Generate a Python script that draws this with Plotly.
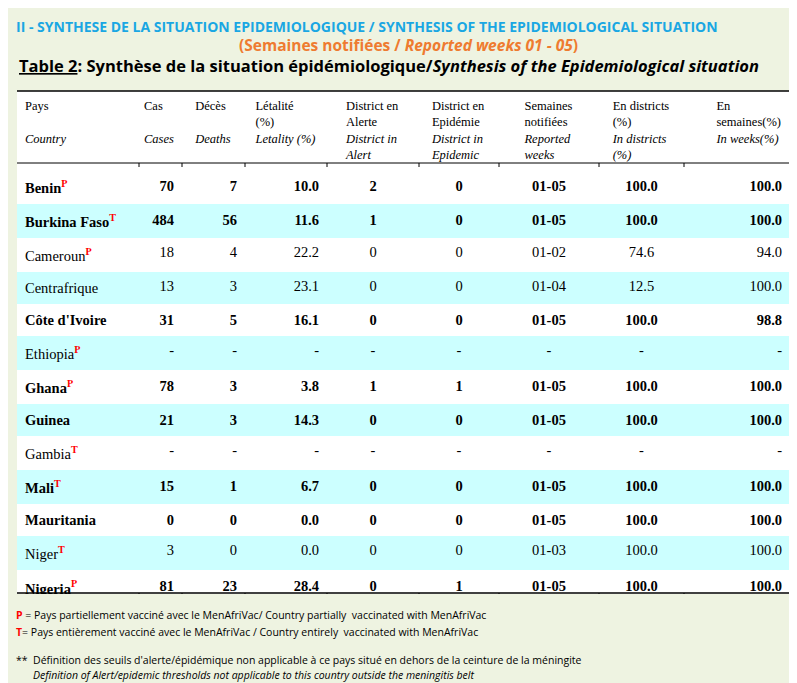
import plotly.graph_objects as go

W, H = 797, 683

countries = ["Benin", "Burkina Faso", "Cameroun", "Centrafrique", "Côte d'Ivoire", "Ethiopia",
             "Ghana", "Guinea", "Gambia", "Mali", "Mauritania", "Niger", "Nigeria", "RD Congo",
             "Senegal", "South Sudan", "Sudan", "Tchad", "Togo", "Total"]
marks = ["P", "T", "P", "", "", "P", "P", "", "T", "T", "", "T", "P", "**", "P", "", "T", "T", "", ""]
bold = [1, 1, 0, 0, 1, 0, 1, 1, 0, 1, 1, 0, 1, 0, 1, 1, 0, 1, 1, 1]
cases = ["70", "484", "18", "13", "31", "-", "78", "21", "-", "15", "0", "3", "81", "-", "24", "1", "22", "44", "39", "944"]
deaths = ["7", "56", "4", "3", "5", "-", "3", "3", "-", "1", "0", "0", "23", "-", "0", "0", "0", "2", "1", "108"]
letality = ["10.0", "11.6", "22.2", "23.1", "16.1", "-", "3.8", "14.3", "-", "6.7", "0.0", "0.0", "28.4", "-",
            "0.0", "0.0", "0.0", "4.5", "2.6", "11.4"]
alert = ["2", "1", "0", "0", "0", "-", "1", "0", "-", "0", "0", "0", "0", "-", "0", "0", "0", "1", "0", "5"]
epidemic = ["0", "0", "0", "0", "0", "-", "1", "0", "-", "0", "0", "0", "1", "-", "0", "0", "0", "0", "0", "2"]
weeks = ["01-05", "01-05", "01-02", "01-04", "01-05", "-", "01-05", "01-05", "-", "01-05", "01-05", "01-03",
         "01-05", "-", "01-05", "01-05", "01-02", "01-05", "01-05", "01-05"]
pct_districts = ["100.0", "100.0", "74.6", "12.5", "100.0", "-", "100.0", "100.0", "-", "100.0", "100.0", "100.0",
                 "100.0", "-", "100.0", "100.0", "100.0", "93.9", "97.5", "57.3"]
pct_weeks = ["100.0", "100.0", "94.0", "100.0", "98.8", "-", "100.0", "100.0", "-", "100.0", "100.0", "100.0",
             "100.0", "-", "100.0", "100.0", "100.0", "98.2", "96.9", "99.6"]

headers = ["Pays<br> <br><i>Country</i>", "Cas<br> <br><i>Cases</i>", "Décès<br> <br><i>Deaths</i>",
           "Létalité<br>(%)<br><i>Letality (%)</i>", "District en<br>Alerte<br><i>District in<br>Alert</i>",
           "District en<br>Epidémie<br><i>District in<br>Epidemic</i>",
           "Semaines<br>notifiées<br><i>Reported<br>weeks</i>",
           "En districts<br>(%)<br><i>In districts<br>(%)</i>", "En<br>semaines(%)<br><i>In weeks(%)</i>"]

def b(vals):
    return [f"<b>{v}</b>" if bold[i] else v for i, v in enumerate(vals)]

names = []
for c, m, bb in zip(countries, marks, bold):
    t = f"<b>{c}</b>" if bb else c
    if m == "**":
        t += "**"
    elif m:
        t += f"<span style='color:red'><sup><b>{m}</b></sup></span>"
    names.append(t + "<br>")  # a break stops plotly from auto-wrapping the cell

columns = [names, b(cases), b(deaths), b(letality), b(alert), b(epidemic), b(weeks), b(pct_districts), b(pct_weeks)]
row_fill = ["white" if (i % 2 == 0 or i == 19) else "#CCFFFF" for i in range(20)]

bounds = [9, 131, 174, 237, 319, 411, 491, 591, 676, 782]
widths = [bounds[i + 1] - bounds[i] for i in range(9)]

fig = go.Figure(go.Table(
    domain=dict(x=[9 / W, 782 / W], y=[0.0, 1 - 83 / H]),
    columnwidth=widths,
    header=dict(values=headers, height=72, fill_color="white", line_color="white",
                align=["left", "right", "center", "center", "center", "center", "center", "center", "right"],
                font=dict(family="Liberation Serif, DejaVu Serif", size=12.5, color="black")),
    cells=dict(values=columns, height=21.5, fill_color=[row_fill] * 9, line_color="rgba(0,0,0,0)",
               align=["left", "right", "right", "right", "center", "center", "center", "center", "right"],
               font=dict(family="Liberation Serif, DejaVu Serif", size=14.5, color="black")),
))

shapes = []
for y, w in [(83, 1.5), (155, 1), (585, 1.5)]:
    shapes.append(dict(type="line", xref="paper", yref="paper", x0=9 / W, x1=782 / W,
                       y0=1 - y / H, y1=1 - y / H, line=dict(color="black", width=w)))
for x in bounds[1:-1]:
    for y in (155, 585):
        shapes.append(dict(type="line", xref="paper", yref="paper", x0=x / W, x1=x / W,
                           y0=1 - y / H, y1=1 - (y + 4) / H, line=dict(color="black", width=1)))
# cover the area below the table so the footnotes sit on the page colour
shapes.append(dict(type="rect", xref="paper", yref="paper", x0=0, x1=1, y0=0, y1=1 - 586 / H,
                   fillcolor="#EEF3E1", line=dict(width=0), layer="above"))

narrow = "Liberation Sans Narrow, Open Sans"
ann = [
    dict(x=6, y=18, text="<b>II - SYNTHESE DE LA SITUATION EPIDEMIOLOGIQUE / SYNTHESIS OF THE EPIDEMIOLOGICAL SITUATION</b>",
         font=dict(family=narrow, size=14, color="#1AA7E3"), xanchor="left"),
    dict(x=400, y=37, text="<b>(Semaines notifiées / <i>Reported weeks 01 - 05</i>)</b>",
         font=dict(family=narrow, size=15.5, color="#EE7B30"), xanchor="center"),
    dict(x=9, y=57, text="<b><u>Table 2</u>: Synthèse de la situation épidémiologique/<i>Synthesis of the Epidemiological situation</i></b>",
         font=dict(family=narrow, size=16.5, color="black"), xanchor="left"),
    dict(x=6, y=607, text="<span style='color:red'><b>P</b></span> = Pays partiellement vacciné avec le MenAfriVac/ Country partially  vaccinated with MenAfriVac",
         font=dict(family=narrow, size=10.5, color="black"), xanchor="left"),
    dict(x=6, y=624, text="<span style='color:red'><b>T</b></span>= Pays entièrement vacciné avec le MenAfriVac / Country entirely  vaccinated with MenAfriVac",
         font=dict(family=narrow, size=10.5, color="black"), xanchor="left"),
    dict(x=6, y=652, text="**  Définition des seuils d'alerte/épidémique non applicable à ce pays situé en dehors de la ceinture de la méningite",
         font=dict(family=narrow, size=10.5, color="black"), xanchor="left"),
    dict(x=23, y=667, text="<i>Definition of Alert/epidemic thresholds not applicable to this country outside the meningitis belt</i>",
         font=dict(family=narrow, size=10.5, color="black"), xanchor="left"),
]
for a in ann:
    a.update(xref="paper", yref="paper", showarrow=False, yanchor="middle")
    a["x"] = a["x"] / W
    a["y"] = 1 - a["y"] / H

fig.update_layout(width=W, height=H, margin=dict(l=0, r=0, t=0, b=0),
                  paper_bgcolor="#EEF3E1", shapes=shapes, annotations=ann)
fig.write_html("out.html")
